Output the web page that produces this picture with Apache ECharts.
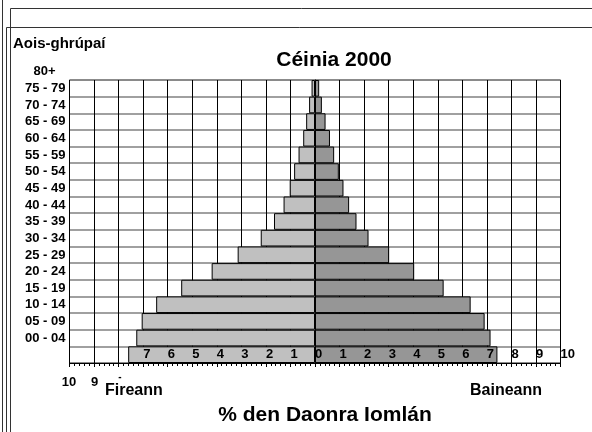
<!DOCTYPE html>
<html>
<head>
<meta charset="utf-8">
<script src="https://cdn.jsdelivr.net/npm/echarts@6/dist/echarts.min.js"></script>
<style>
  html, body { margin: 0; padding: 0; background: #fff; }
  #chart { width: 592px; height: 432px; }
</style>
</head>
<body>
<div id="chart"></div>
<script>
'use strict';

// age groups, bottom to top
const ageGroups = ['00 - 04', '05 - 09', '10 - 14', '15 - 19', '20 - 24', '25 - 29', '30 - 34', '35 - 39',
    '40 - 44', '45 - 49', '50 - 54', '55 - 59', '60 - 64', '65 - 69', '70 - 74', '75 - 79', '80+'];

// % of total population
const maleValues = [7.61, 7.28, 7.06, 6.47, 5.45, 4.21, 3.15, 2.21, 1.67, 1.28, 1.03, 0.85, 0.67, 0.48, 0.36, 0.24, 0.14];
const femaleValues = [7.43, 7.15, 6.91, 6.34, 5.24, 4.04, 3.02, 2.18, 1.69, 1.39, 1.16, 0.97, 0.78, 0.61, 0.43, 0.28, 0.17];

const FONT = '"Liberation Sans", Arial, sans-serif';

const chart = echarts.init(document.getElementById('chart'));

const frameLine = (x1, y1, x2, y2) => ({
    type: 'line',
    shape: { x1, y1, x2, y2 },
    style: { stroke: '#333', lineWidth: 1 }
});

const boldText = (x, y, text, size, align) => ({
    type: 'text',
    x, y,
    style: { text, fontFamily: FONT, fontWeight: 'bold', fontSize: size, fill: '#000', align: align || 'left', verticalAlign: 'middle' }
});

chart.setOption({
    animation: false,
    backgroundColor: '#fff',
    title: {
        text: 'Céinia 2000',
        left: 329, top: 45, textAlign: 'center',
        textStyle: { fontFamily: FONT, fontWeight: 'bold', fontSize: 21, color: '#000' }
    },
    grid: {
        left: 69.5, right: 31.5, top: 80, bottom: 69,
        show: true, borderColor: '#555', borderWidth: 1
    },
    xAxis: [{
        type: 'value',
        min: -10, max: 10, interval: 1,
        axisLine: { show: true, lineStyle: { color: '#000' } },
        axisTick: { show: true, inside: false, length: 4, lineStyle: { color: '#000' } },
        minorTick: { show: true, splitNumber: 5, length: 3, lineStyle: { color: '#000' } },
        splitLine: { show: true, lineStyle: { color: '#000', width: 1 } },
        axisLabel: { show: false }
    }, {
        // tick numbers only, drawn over the bars
        type: 'value',
        position: 'bottom',
        min: -10, max: 10, interval: 1,
        z: 5,
        axisLine: { show: false },
        axisTick: { show: false },
        splitLine: { show: false },
        axisLabel: {
            inside: true, margin: 2, align: 'left',
            fontFamily: FONT, fontWeight: 'bold', fontSize: 13, color: '#000',
            formatter: v => (v < -7 ? '' : String(Math.abs(v)))
        }
    }],
    yAxis: {
        type: 'category',
        data: ageGroups,
        axisLine: { show: true, lineStyle: { color: '#000' } },
        axisTick: { show: false },
        splitLine: { show: true, interval: 0, lineStyle: { color: '#808080', width: 1.5 } },
        axisLabel: {
            interval: 0, margin: 4,
            padding: [0, 0, 33, 0],
            fontFamily: FONT, fontWeight: 'bold', fontSize: 13, color: '#000',
            formatter: v => (v === '80+' ? '{p|80+}' : v),
            rich: { p: { fontFamily: FONT, fontWeight: 'bold', fontSize: 13, color: '#000', padding: [0, 10, 0, 0] } }
        }
    },
    series: [{
        name: 'Fireann',
        type: 'bar',
        data: maleValues.map(v => -v),
        barWidth: '100%',
        barGap: '-100%',
        itemStyle: { color: '#c0c0c0', borderColor: '#000', borderWidth: 1 }
    }, {
        name: 'Baineann',
        type: 'bar',
        data: femaleValues,
        barWidth: '100%',
        itemStyle: { color: '#969696', borderColor: '#000', borderWidth: 1 }
    }],
    graphic: [
        frameLine(2.5, 0, 2.5, 432),
        frameLine(6.5, 27.5, 6.5, 432),
        frameLine(10.5, 8.5, 10.5, 432),
        frameLine(10.5, 8.5, 592, 8.5),
        frameLine(6.5, 27.5, 592, 27.5),
        boldText(13, 44, 'Aois-ghrúpaí', 15),
        boldText(69, 382, '10', 13, 'center'),
        boldText(94.5, 382, '9', 13, 'center'),
        boldText(120, 377, '-', 10, 'center'),
        boldText(105, 391, 'Fireann', 16),
        boldText(470, 391, 'Baineann', 16),
        boldText(325, 415, '% den Daonra Iomlán', 21, 'center')
    ]
});
</script>
</body>
</html>
